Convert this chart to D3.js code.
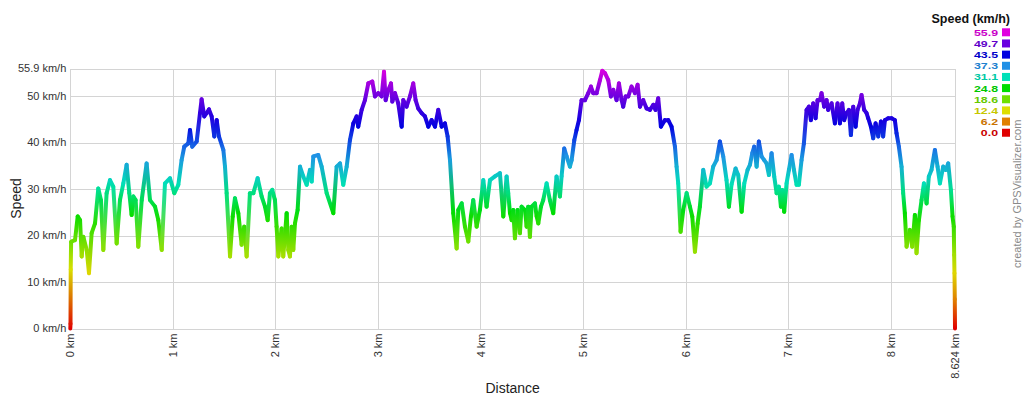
<!DOCTYPE html>
<html>
<head>
<meta charset="utf-8">
<script src="https://cdn.jsdelivr.net/npm/d3@7"></script>
<style>
  body { margin: 0; background: #fff; }
  svg { font-family: Arial, "Liberation Sans", sans-serif; display: block; }
  .grid line { stroke: #d4d4d4; stroke-width: 1; shape-rendering: crispEdges; }
  .tick-label { fill: #333; font-size: 11px; }
  .axis-title { fill: #222; font-size: 14px; }
  .legend-title { fill: #111; font-size: 12.5px; font-weight: bold; }
  .legend-value { font-size: 9.5px; font-weight: bold; }
  .credit { fill: #8a8a8a; font-size: 11px; }
</style>
</head>
<body>
<div id="chart"></div>
<script>
// track distance (km) and speed (km/h)
var distKm = [
  0.000, 0.002, 0.004, 0.008, 0.013, 0.046, 0.072, 0.095, 0.111, 0.127, 0.160, 0.182, 0.208, 0.241,
  0.273, 0.299, 0.322, 0.354, 0.387, 0.419, 0.452, 0.484, 0.517, 0.549, 0.575, 0.598, 0.614, 0.637,
  0.663, 0.696, 0.744, 0.777, 0.826, 0.858, 0.891, 0.923, 0.972, 1.014, 1.053, 1.085, 1.111, 1.150,
  1.167, 1.189, 1.232, 1.264, 1.280, 1.306, 1.329, 1.352, 1.378, 1.404, 1.427, 1.449, 1.492, 1.508,
  1.524, 1.557, 1.583, 1.605, 1.638, 1.670, 1.696, 1.719, 1.751, 1.784, 1.826, 1.865, 1.898, 1.924,
  1.946, 1.969, 1.995, 2.011, 2.028, 2.060, 2.076, 2.109, 2.125, 2.141, 2.158, 2.174, 2.190, 2.216,
  2.239, 2.271, 2.304, 2.336, 2.353, 2.369, 2.417, 2.450, 2.499, 2.564, 2.596, 2.629, 2.661, 2.694,
  2.726, 2.759, 2.791, 2.807, 2.840, 2.872, 2.905, 2.944, 2.970, 3.002, 3.035, 3.058, 3.074, 3.100,
  3.126, 3.139, 3.165, 3.197, 3.230, 3.246, 3.278, 3.311, 3.343, 3.366, 3.392, 3.425, 3.457, 3.490,
  3.522, 3.555, 3.587, 3.620, 3.652, 3.678, 3.701, 3.733, 3.766, 3.782, 3.815, 3.847, 3.880, 3.905,
  3.928, 3.961, 3.993, 4.026, 4.058, 4.091, 4.139, 4.188, 4.221, 4.253, 4.269, 4.286, 4.302, 4.318,
  4.334, 4.360, 4.383, 4.399, 4.432, 4.448, 4.464, 4.480, 4.497, 4.529, 4.546, 4.562, 4.588, 4.610,
  4.643, 4.675, 4.708, 4.740, 4.773, 4.789, 4.815, 4.838, 4.870, 4.887, 4.913, 4.935, 4.958, 4.984,
  5.017, 5.049, 5.075, 5.098, 5.130, 5.163, 5.186, 5.212, 5.244, 5.270, 5.293, 5.325, 5.348, 5.374,
  5.390, 5.413, 5.439, 5.471, 5.504, 5.530, 5.553, 5.585, 5.618, 5.650, 5.683, 5.705, 5.731, 5.757,
  5.796, 5.829, 5.861, 5.894, 5.910, 5.926, 5.949, 5.975, 6.008, 6.040, 6.063, 6.089, 6.115, 6.137,
  6.170, 6.202, 6.235, 6.267, 6.300, 6.332, 6.365, 6.397, 6.420, 6.446, 6.485, 6.511, 6.544, 6.570,
  6.602, 6.625, 6.648, 6.667, 6.690, 6.712, 6.738, 6.764, 6.787, 6.810, 6.836, 6.862, 6.885, 6.907,
  6.927, 6.940, 6.959, 6.982, 7.005, 7.031, 7.054, 7.080, 7.102, 7.128, 7.151, 7.177, 7.200, 7.219,
  7.242, 7.265, 7.284, 7.307, 7.323, 7.349, 7.372, 7.388, 7.421, 7.453, 7.479, 7.502, 7.525, 7.544,
  7.567, 7.590, 7.609, 7.632, 7.655, 7.674, 7.697, 7.713, 7.739, 7.762, 7.778, 7.804, 7.827, 7.850,
  7.876, 7.902, 7.924, 7.941, 7.973, 8.006, 8.038, 8.054, 8.077, 8.103, 8.119, 8.135, 8.152, 8.184,
  8.207, 8.233, 8.249, 8.272, 8.298, 8.321, 8.347, 8.369, 8.395, 8.428, 8.454, 8.477, 8.509, 8.532,
  8.558, 8.584, 8.600, 8.612, 8.616, 8.619, 8.622, 8.624
];
var speedKmh = [
  0.0, 1.0, 12.7, 18.6, 18.7, 19.0, 24.1, 23.3, 15.5, 19.7, 16.9, 11.9, 20.5, 22.6,
  30.1, 27.6, 16.9, 29.1, 31.9, 30.5, 18.3, 27.6, 31.2, 35.2, 29.1, 24.4, 28.4, 27.6,
  17.6, 27.6, 35.5, 27.6, 26.2, 23.3, 16.9, 31.2, 32.3, 29.1, 30.9, 36.2, 39.1, 39.8,
  42.7, 39.1, 40.2, 46.3, 49.3, 45.6, 46.3, 47.1, 45.6, 41.3, 44.8, 41.3, 38.4, 34.8,
  29.1, 15.5, 24.1, 28.0, 24.8, 18.0, 21.9, 15.5, 29.1, 29.1, 32.3, 28.4, 26.2, 23.3,
  29.1, 29.8, 27.6, 21.9, 15.5, 21.5, 15.5, 24.8, 16.9, 15.5, 21.9, 16.9, 22.6, 25.5,
  34.8, 32.7, 30.9, 34.1, 31.6, 37.0, 37.3, 34.8, 29.1, 24.8, 34.8, 35.5, 30.9, 34.8,
  40.5, 44.1, 45.6, 43.4, 47.0, 49.1, 52.7, 53.1, 49.9, 50.6, 49.9, 55.2, 49.1, 51.3,
  52.7, 48.8, 50.6, 48.4, 43.4, 49.1, 47.7, 49.9, 52.7, 49.1, 47.3, 46.3, 45.6, 43.4,
  44.8, 43.4, 47.0, 43.4, 44.1, 41.3, 36.2, 24.8, 17.2, 25.5, 26.9, 21.9, 18.7, 24.1,
  27.6, 21.9, 25.5, 31.9, 26.2, 31.9, 32.7, 33.4, 24.1, 32.7, 29.1, 24.8, 23.3, 25.5,
  19.4, 25.5, 20.5, 26.2, 25.5, 21.9, 26.2, 19.7, 26.2, 26.9, 24.1, 22.6, 26.2, 27.6,
  31.2, 27.6, 24.8, 32.7, 28.4, 32.7, 38.7, 37.0, 34.8, 36.2, 40.5, 42.7, 44.8, 49.1,
  49.1, 50.6, 52.0, 50.6, 50.6, 53.4, 55.4, 54.9, 53.4, 49.9, 51.3, 49.1, 52.7, 49.1,
  47.7, 49.9, 49.9, 52.0, 50.6, 52.4, 47.7, 49.1, 47.3, 47.0, 48.1, 47.0, 49.5, 43.4,
  44.8, 44.8, 43.4, 39.1, 34.8, 31.2, 20.8, 25.5, 29.1, 26.2, 24.1, 16.5, 22.6, 26.2,
  34.1, 30.5, 31.2, 34.8, 36.2, 40.2, 37.0, 31.9, 26.2, 31.0, 34.4, 33.0, 25.1, 31.2,
  34.1, 35.2, 37.7, 39.1, 34.8, 40.2, 37.0, 36.2, 35.5, 33.0, 37.7, 32.7, 29.1, 30.5,
  26.2, 29.8, 25.1, 31.2, 34.1, 37.3, 34.1, 30.9, 30.9, 36.2, 39.8, 47.0, 47.7, 44.8,
  48.4, 45.2, 49.1, 49.1, 50.6, 47.7, 49.1, 47.0, 48.4, 44.1, 48.4, 44.1, 48.4, 44.8,
  46.3, 47.0, 41.6, 47.7, 43.4, 47.0, 48.4, 50.2, 47.0, 46.3, 45.2, 43.4, 40.9, 44.1,
  41.3, 44.5, 41.3, 44.8, 45.2, 45.2, 44.8, 42.0, 39.1, 34.8, 29.1, 24.8, 17.6, 21.2,
  17.6, 24.4, 16.2, 23.3, 27.6, 31.2, 26.9, 32.7, 34.1, 38.4, 34.8, 31.2, 34.8, 34.1,
  35.5, 29.8, 24.1, 21.9, 15.8, 11.9, 6.3, 0.0
];

// speed legend
var legendValues = [0.0, 6.2, 12.4, 18.6, 24.8, 31.1, 37.3, 43.5, 49.7, 55.9];
var legendColors = ["#e00000", "#e08000", "#dede00", "#70e000", "#00dd00",
                    "#00e0b8", "#2090e6", "#0000e0", "#6a00e0", "#e000e0"];

// axis ticks
var xTickValues = [0, 1, 2, 3, 4, 5, 6, 7, 8, 8.624];
var xTickLabels = ["0 km", "1 km", "2 km", "3 km", "4 km", "5 km", "6 km", "7 km", "8 km", "8.624 km"];
var yTickValues = [0, 10, 20, 30, 40, 50, 55.9];
var yTickLabels = ["0 km/h", "10 km/h", "20 km/h", "30 km/h", "40 km/h", "50 km/h", "55.9 km/h"];

var W = 1024, H = 398;
var margin = {top: 68.5, right: 69, bottom: 69.5, left: 70.3};
var width = W - margin.left - margin.right,
    height = H - margin.top - margin.bottom;

var svg = d3.select("#chart").append("svg")
    .attr("width", W)
    .attr("height", H);

var g = svg.append("g")
    .attr("transform", "translate(" + margin.left + "," + margin.top + ")");

var x = d3.scaleLinear().domain([0, 8.624]).range([0, width]);
var y = d3.scaleLinear().domain([0, 55.9]).range([height, 0]);
var color = d3.scaleLinear().domain(legendValues).range(legendColors);

// grid
var grid = g.append("g").attr("class", "grid");
grid.selectAll(".vx").data(xTickValues).enter().append("line")
    .attr("x1", function(d) { return Math.round(x(d)) + 0.5; })
    .attr("x2", function(d) { return Math.round(x(d)) + 0.5; })
    .attr("y1", 0).attr("y2", height);
grid.selectAll(".hy").data(yTickValues).enter().append("line")
    .attr("y1", function(d) { return Math.round(y(d)) + 0.5; })
    .attr("y2", function(d) { return Math.round(y(d)) + 0.5; })
    .attr("x1", 0).attr("x2", width);

// y tick labels
g.selectAll(".ylab").data(yTickValues).enter().append("text")
    .attr("class", "tick-label")
    .attr("x", -4)
    .attr("y", function(d) { return y(d); })
    .attr("dy", "0.35em")
    .attr("text-anchor", "end")
    .text(function(d, i) { return yTickLabels[i]; });

// x tick labels (rotated)
g.selectAll(".xlab").data(xTickValues).enter().append("text")
    .attr("class", "tick-label")
    .attr("transform", function(d) { return "translate(" + x(d) + "," + (height + 5) + ") rotate(-90)"; })
    .attr("dy", "0.35em")
    .attr("text-anchor", "end")
    .text(function(d, i) { return xTickLabels[i]; });

// speed line: each segment gets a gradient between its two trackpoint colours
var segs = d3.range(1, distKm.length);
var defs = svg.append("defs");
var grads = defs.selectAll("linearGradient").data(segs).enter().append("linearGradient")
    .attr("id", function(i) { return "seg" + i; })
    .attr("gradientUnits", "userSpaceOnUse")
    .attr("x1", function(i) { return x(distKm[i - 1]); })
    .attr("y1", function(i) { return y(speedKmh[i - 1]); })
    .attr("x2", function(i) { return x(distKm[i]) + 0.01; })
    .attr("y2", function(i) { return y(speedKmh[i]); });
grads.append("stop").attr("offset", 0).attr("stop-color", function(i) { return color(speedKmh[i - 1]); });
grads.append("stop").attr("offset", 1).attr("stop-color", function(i) { return color(speedKmh[i]); });

g.append("g").selectAll("line").data(segs).enter().append("line")
    .attr("x1", function(i) { return x(distKm[i - 1]); })
    .attr("y1", function(i) { return y(speedKmh[i - 1]); })
    .attr("x2", function(i) { return x(distKm[i]); })
    .attr("y2", function(i) { return y(speedKmh[i]); })
    .attr("stroke", function(i) { return "url(#seg" + i + ")"; })
    .attr("stroke-width", 4)
    .attr("stroke-linecap", "round");

// axis titles
svg.append("text")
    .attr("class", "axis-title")
    .attr("transform", "translate(16," + (margin.top + height / 2) + ") rotate(-90)")
    .attr("dy", "0.35em")
    .attr("text-anchor", "middle")
    .text("Speed");

svg.append("text")
    .attr("class", "axis-title")
    .attr("x", margin.left + width / 2)
    .attr("y", 393)
    .attr("text-anchor", "middle")
    .text("Distance");

// legend
var legend = svg.append("g");
legend.append("text")
    .attr("class", "legend-title")
    .attr("x", 1010)
    .attr("y", 23)
    .attr("text-anchor", "end")
    .text("Speed (km/h)");

var rows = legendValues.slice().reverse();
var rowColors = legendColors.slice().reverse();
var row = legend.selectAll(".row").data(rows).enter().append("g")
    .attr("transform", function(d, i) { return "translate(0," + (32.3 + i * 11.16) + ")"; });
row.append("rect")
    .attr("x", 1002).attr("y", -4)
    .attr("width", 8).attr("height", 8)
    .attr("fill", function(d, i) { return rowColors[i]; });
row.append("text")
    .attr("class", "legend-value")
    .attr("transform", "translate(998,0) scale(1.3,1)")
    .attr("dy", "0.36em")
    .attr("text-anchor", "end")
    .attr("fill", function(d, i) { return d3.color(rowColors[i]).darker(0.3); })
    .text(function(d) { return d.toFixed(1); });

// credit
svg.append("text")
    .attr("class", "credit")
    .attr("transform", "translate(1017,268) rotate(-90)")
    .attr("dy", "0.35em")
    .text("created by GPSVisualizer.com");
</script>
</body>
</html>
